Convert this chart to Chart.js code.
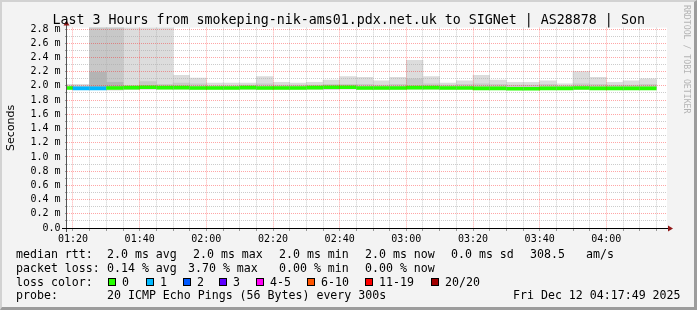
<!DOCTYPE html>
<html>
<head>
<meta charset="utf-8">
<script src="https://cdn.jsdelivr.net/npm/chart.js@4.4.1/dist/chart.umd.min.js"></script>
<style>
  html, body { margin: 0; padding: 0; background: #f3f3f3; }
  #wrap { position: relative; width: 697px; height: 310px; background: #f3f3f3; overflow: hidden; }
  #chart { position: absolute; left: 0; top: 0; }
  .txt { position: absolute; font-family: "DejaVu Sans Mono", monospace; color: #000; white-space: pre; }
  #title { left: 52.5px; top: 11.5px; font-size: 13.3px; line-height: 16px; }
  .leg { font-size: 11.6px; line-height: 14px; }
  .sq { position: absolute; top: 278px; width: 6px; height: 6px; border: 1px solid #000; }
  #wm { left: 682px; top: 5px; writing-mode: vertical-rl; font-size: 8.2px; line-height: 10px; color: #b4b4b4; }
  #frame { position: absolute; left: 0; top: 0; width: 697px; height: 310px; box-sizing: border-box;
           border-style: solid; border-width: 2px 3px 3px 2px;
           border-color: #d2d2d2 #9c9c9c #9c9c9c #d2d2d2; pointer-events: none; }
</style>
</head>
<body>
<div id="wrap">
  <canvas id="chart" width="697" height="310"></canvas>
  <div id="title" class="txt">Last 3 Hours from smokeping-nik-ams01.pdx.net.uk to SIGNet | AS28878 | Son</div>
  <div id="wm" class="txt">RRDTOOL / TOBI OETIKER</div>

  <div class="txt leg" style="left:16px;top:247.3px">median rtt:</div>
  <div class="txt leg" style="left:107px;top:247.3px">2.0 ms avg</div>
  <div class="txt leg" style="left:193px;top:247.3px">2.0 ms max</div>
  <div class="txt leg" style="left:279px;top:247.3px">2.0 ms min</div>
  <div class="txt leg" style="left:365px;top:247.3px">2.0 ms now</div>
  <div class="txt leg" style="left:451px;top:247.3px">0.0 ms sd</div>
  <div class="txt leg" style="left:530px;top:247.3px">308.5</div>
  <div class="txt leg" style="left:586px;top:247.3px">am/s</div>

  <div class="txt leg" style="left:16px;top:261px">packet loss:</div>
  <div class="txt leg" style="left:107px;top:261px">0.14 % avg</div>
  <div class="txt leg" style="left:188px;top:261px">3.70 % max</div>
  <div class="txt leg" style="left:279px;top:261px">0.00 % min</div>
  <div class="txt leg" style="left:365px;top:261px">0.00 % now</div>

  <div class="txt leg" style="left:16px;top:275px">loss color:</div>
  <div id="lossRow"></div>

  <div class="txt leg" style="left:16px;top:288.3px">probe:</div>
  <div class="txt leg" style="left:107px;top:288.3px">20 ICMP Echo Pings (56 Bytes) every 300s</div>
  <div class="txt leg" style="left:513px;top:288.3px">Fri Dec 12 04:17:49 2025</div>

  <div id="frame"></div>
</div>
<script>
// 5 minute slots (start time of each step)
const slotStart = ['01:15','01:20','01:25','01:30','01:35','01:40','01:45','01:50','01:55','02:00',
                   '02:05','02:10','02:15','02:20','02:25','02:30','02:35','02:40','02:45','02:50',
                   '02:55','03:00','03:05','03:10','03:15','03:20','03:25','03:30','03:35','03:40',
                   '03:45','03:50','03:55','04:00','04:05','04:10'];

// median rtt in ms
const medianRtt = [1.97, 1.965, 1.965, 1.97, 1.975, 1.98, 1.975, 1.975, 1.97, 1.97,
                   1.97, 1.975, 1.97, 1.97, 1.97, 1.975, 1.98, 1.98, 1.97, 1.97,
                   1.97, 1.975, 1.975, 1.97, 1.97, 1.965, 1.965, 1.96, 1.96, 1.965,
                   1.965, 1.97, 1.965, 1.965, 1.965, 1.965];

// lost pings per step (of 20)
const lostPings = [0, 1, 1, 0, 0, 0, 0, 0, 0, 0, 0, 0, 0, 0, 0, 0, 0, 0,
                   0, 0, 0, 0, 0, 0, 0, 0, 0, 0, 0, 0, 0, 0, 0, 0, 0, 0];

// smoke: lowest and highest ping in ms
const smokeMin = [1.95, 1.95, 1.95, 1.94, 1.945, 1.95, 1.955, 1.955, 1.95, 1.955,
                  1.955, 1.95, 1.95, 1.955, 1.955, 1.95, 1.945, 1.955, 1.955, 1.955,
                  1.955, 1.955, 1.955, 1.955, 1.955, 1.955, 1.945, 1.945, 1.945, 1.95,
                  1.95, 1.95, 1.95, 1.955, 1.955, 1.955];
const smokeMax = [2.02, 2.02, 3.4, 3.4, 3.1, 3.1, 3.1, 2.15, 2.11, 2.04,
                  2.04, 2.04, 2.13, 2.05, 2.04, 2.05, 2.08, 2.13, 2.12, 2.07,
                  2.12, 2.36, 2.13, 2.04, 2.07, 2.15, 2.08, 2.05, 2.05, 2.07,
                  2.03, 2.20, 2.12, 2.05, 2.07, 2.10];
// inner (denser) part of the smoke
const smokeInner = [2.00, 2.00, 3.2, 3.2, 2.00, 2.06, 2.02, 2.04, 2.03, 2.00,
                    2.00, 2.01, 2.03, 2.01, 2.01, 2.01, 2.02, 2.02, 2.02, 2.01,
                    2.02, 2.10, 2.03, 2.01, 2.02, 2.03, 2.02, 2.01, 2.01, 2.02,
                    2.00, 2.03, 2.02, 2.01, 2.01, 2.02];
const smokeCore = [null, null, 2.19, 2.05, null, null, null, null, null, null,
                   null, null, null, null, null, null, null, null, null, null,
                   null, null, null, null, null, null, null, null, null, null,
                   null, null, null, null, null, null];

const lossLabels = ['0', '1', '2', '3', '4-5', '6-10', '11-19', '20/20'];
const lossColors = ['#26ff00', '#00b8ff', '#0059ff', '#5e00ff', '#ff00f5', '#ff5500', '#ff0000', '#a10000'];

const xTickLabels = ['01:20', '01:40', '02:00', '02:20', '02:40', '03:00', '03:20', '03:40', '04:00'];
const yTickLabels = ['0.0', '0.2 m', '0.4 m', '0.6 m', '0.8 m', '1.0 m', '1.2 m', '1.4 m',
                     '1.6 m', '1.8 m', '2.0 m', '2.2 m', '2.4 m', '2.6 m', '2.8 m'];

const toMin = (s) => { const [h, m] = s.split(':').map(Number); return h * 60 + m; };
const fmt = (v) => String(Math.floor(v / 60)).padStart(2, '0') + ':' + String(v % 60).padStart(2, '0');

// loss colour legend
const sqLeft = [108, 146, 183, 219, 256, 307, 365, 431];
let html = '';
lossLabels.forEach((lab, i) => {
  html += '<div class="sq" style="left:' + sqLeft[i] + 'px;background:' + lossColors[i] + '"></div>';
  html += '<div class="txt leg" style="left:' + (sqLeft[i] + 14) + 'px;top:275px">' + lab + '</div>';
});
document.getElementById('lossRow').innerHTML = html;

function rangeData(lo, hi) {
  const out = [];
  slotStart.forEach((s, i) => {
    if (hi[i] == null) return;
    out.push({ x: toMin(s) + 2.5, y: [lo[i], hi[i]] });
  });
  return out;
}

const medianBars = slotStart.map((s, i) => ({ x: toMin(s) + 2.5, y: [medianRtt[i] - 0.021, medianRtt[i] + 0.021] }));
const medianColors = lostPings.map((l) => {
  if (l === 0) return lossColors[0];
  if (l <= 3) return lossColors[l];
  if (l <= 5) return lossColors[4];
  if (l <= 10) return lossColors[5];
  if (l <= 19) return lossColors[6];
  return lossColors[7];
});

const xStart = toMin('01:18') + 0.2;
const majorX = xTickLabels.map(toMin);

const barOpts = { barPercentage: 1, categoryPercentage: 1, grouped: false, borderWidth: 0 };

const frame = {
  id: 'frame',
  beforeDraw(chart) {
    const { ctx, chartArea: a } = chart;
    ctx.save();
    ctx.fillStyle = '#ffffff';
    ctx.fillRect(a.left, a.top, a.right - a.left, a.bottom - a.top);
    ctx.restore();
  },
  afterDraw(chart) {
    const { ctx, chartArea: a } = chart;
    ctx.save();
    // y axis
    ctx.strokeStyle = '#555';
    ctx.lineWidth = 1;
    ctx.beginPath();
    ctx.moveTo(a.left - 0.5, a.bottom + 4);
    ctx.lineTo(a.left - 0.5, a.top - 5);
    ctx.stroke();
    // x axis
    ctx.strokeStyle = '#000';
    ctx.beginPath();
    ctx.moveTo(a.left - 5, a.bottom + 0.5);
    ctx.lineTo(a.right + 3, a.bottom + 0.5);
    ctx.stroke();
    // arrows
    ctx.fillStyle = '#901818';
    ctx.beginPath();
    ctx.moveTo(a.left - 0.5, a.top - 7);
    ctx.lineTo(a.left - 3.5, a.top - 2);
    ctx.lineTo(a.left + 2.5, a.top - 2);
    ctx.closePath();
    ctx.fill();
    ctx.beginPath();
    ctx.moveTo(a.right + 6, a.bottom + 0.5);
    ctx.lineTo(a.right + 1, a.bottom - 2.5);
    ctx.lineTo(a.right + 1, a.bottom + 3.5);
    ctx.closePath();
    ctx.fill();
    ctx.restore();
  }
};

new Chart(document.getElementById('chart'), {
  type: 'bar',
  data: {
    datasets: [
      { data: medianBars, backgroundColor: medianColors, order: 1, ...barOpts },
      { data: rangeData(medianRtt, smokeCore), backgroundColor: '#b4b4b4', order: 2, ...barOpts },
      { data: rangeData(medianRtt, smokeInner), backgroundColor: '#c8c8c8', order: 3, ...barOpts },
      { data: rangeData(smokeMin, smokeMax), backgroundColor: '#dcdcdc', order: 4, ...barOpts }
    ]
  },
  options: {
    responsive: false,
    animation: false,
    layout: { padding: { top: 27.6, right: 30, left: 0, bottom: 0 } },
    plugins: { legend: { display: false }, tooltip: { enabled: false }, title: { display: false } },
    scales: {
      x: {
        type: 'linear',
        min: xStart,
        max: xStart + 180,
        offset: false,
        afterBuildTicks(scale) {
          const t = [];
          for (let m = toMin('01:20'); m <= toMin('04:15'); m += 5) t.push({ value: m });
          scale.ticks = t;
        },
        afterFit(scale) { scale.height = 82; },
        grid: {
          offset: false,
          z: 1,
          lineWidth: 1,
          color: (c) => (c.tick && majorX.includes(c.tick.value)) ? 'rgba(255,0,0,0.35)' : 'rgba(170,170,170,0.6)',
          tickLength: 3,
          tickColor: '#999'
        },
        border: { display: false, dash: [1, 1] },
        ticks: {
          autoSkip: false,
          maxRotation: 0,
          padding: 2,
          color: '#000',
          font: { family: 'DejaVu Sans Mono', size: 10 },
          callback: (v) => majorX.includes(v) ? xTickLabels[majorX.indexOf(v)] : ''
        }
      },
      y: {
        type: 'linear',
        min: 0,
        max: 2.82,
        afterBuildTicks(scale) {
          const t = [];
          for (let i = 0; i <= 28; i++) t.push({ value: i / 10 });
          scale.ticks = t;
        },
        afterFit(scale) { scale.width = 67; },
        grid: {
          z: 1,
          lineWidth: 1,
          color: (c) => (c.index % 2 === 0) ? 'rgba(255,0,0,0.35)' : 'rgba(170,170,170,0.6)',
          tickLength: 2,
          tickColor: '#999'
        },
        border: { display: false, dash: [1, 1] },
        title: {
          display: true,
          text: 'Seconds',
          color: '#000',
          font: { family: 'DejaVu Sans', size: 11 },
          padding: { top: 4.4, bottom: 0 }
        },
        ticks: {
          autoSkip: false,
          padding: 4.5,
          color: '#000',
          font: { family: 'DejaVu Sans Mono', size: 10 },
          callback: (v, i) => (i % 2 === 0) ? yTickLabels[i / 2] : ''
        }
      }
    }
  },
  plugins: [frame]
});
</script>
</body>
</html>
